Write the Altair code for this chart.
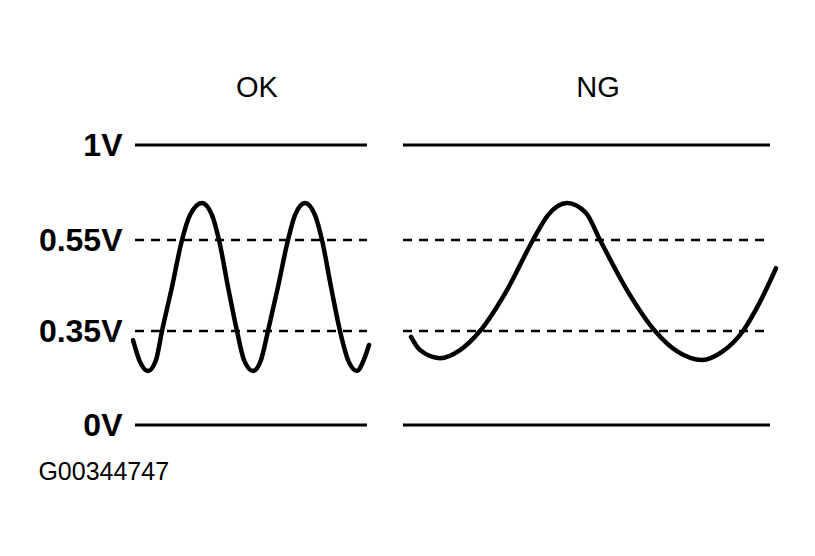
import altair as alt
import pandas as pd

# Reference levels (volts) and their line style
levels = [0, 0.35, 0.55, 1]
level_dash = ["solid", "dashed", "dashed", "solid"]

# Panels
panels = ["OK", "NG"]
panel_start = [7, 275]
panel_end = [239, 642]
panel_center = [129, 470]

# OK waveform (time units, volts)
ok_t = [5, 12, 20, 28, 34, 44, 54, 62, 74, 84, 91, 100, 109, 116, 125, 133, 140,
        150, 160, 167, 177, 187, 194, 203, 212, 220, 229, 235, 241]
ok_v = [0.316, 0.235, 0.201, 0.242, 0.35, 0.447, 0.55, 0.668, 0.725, 0.668, 0.55,
        0.447, 0.35, 0.242, 0.201, 0.242, 0.35, 0.447, 0.55, 0.668, 0.725, 0.668,
        0.55, 0.447, 0.35, 0.242, 0.201, 0.235, 0.298]

# NG waveform
ng_t = [283, 292, 312, 332, 352, 379, 405, 420, 439, 458, 472, 499, 527, 550,
        574, 594, 615, 632, 648]
ng_v = [0.328, 0.279, 0.249, 0.279, 0.35, 0.44, 0.55, 0.668, 0.725, 0.678, 0.55,
        0.44, 0.35, 0.272, 0.242, 0.272, 0.35, 0.414, 0.488]

footer = "G00344747"

FONT = "Liberation Sans"

rules_rows = []
for p, s, e in zip(panels, panel_start, panel_end):
    for lv, d in zip(levels, level_dash):
        rules_rows.append({"panel": p, "level": lv, "dash": d, "t0": s, "t1": e})
rules_df = pd.DataFrame(rules_rows)

wave_df = pd.concat([
    pd.DataFrame({"panel": "OK", "t": ok_t, "v": ok_v}),
    pd.DataFrame({"panel": "NG", "t": ng_t, "v": ng_v}),
])

titles_df = pd.DataFrame({"panel": panels, "t": panel_center})

x_scale = alt.Scale(domain=[0, 660], nice=False, zero=False)
y_scale = alt.Scale(domain=levels, range=[355, 261, 170, 75], nice=False, zero=False)

y_axis = alt.Axis(
    values=levels, title=None, grid=False, domain=False, ticks=False, tickSize=0,
    labelExpr="datum.value + 'V'", labelFont=FONT, labelFontSize=32,
    labelFontWeight="bold", labelColor="black", labelPadding=6,
)

base_rules = alt.Chart(rules_df).encode(
    x=alt.X("t0:Q", scale=x_scale, axis=None),
    x2="t1:Q",
    y=alt.Y("level:Q", scale=y_scale, axis=y_axis),
)

solid = base_rules.transform_filter("datum.dash == 'solid'").mark_rule(
    color="black", strokeWidth=3)
dashed = base_rules.transform_filter("datum.dash == 'dashed'").mark_rule(
    color="black", strokeWidth=2.6, strokeDash=[9, 7])

waves = alt.Chart(wave_df).mark_line(
    color="black", strokeWidth=4.5, interpolate="monotone", strokeCap="round"
).encode(
    x=alt.X("t:Q", scale=x_scale, axis=None),
    y=alt.Y("v:Q", scale=y_scale, axis=y_axis),
    detail="panel:N",
)

titles = alt.Chart(titles_df).mark_text(
    font=FONT, fontSize=29, color="black", baseline="middle", align="center"
).encode(
    x=alt.X("t:Q", scale=x_scale, axis=None),
    y=alt.value(18),
    text="panel:N",
)

chart = alt.layer(solid, dashed, waves, titles).properties(
    width=660,
    height=380,
    padding={"left": 120, "top": 62, "right": 0, "bottom": 80},
    autosize=alt.AutoSizeParams(type="none"),
    background="white",
    title=alt.TitleParams(
        text=footer, orient="bottom", anchor="start", font=FONT, fontSize=25,
        fontWeight="normal", color="black", offset=10, frame="bounds",
    ),
).configure_view(stroke=None)

chart.save("out.html", embed_options={"renderer": "svg", "actions": False})
